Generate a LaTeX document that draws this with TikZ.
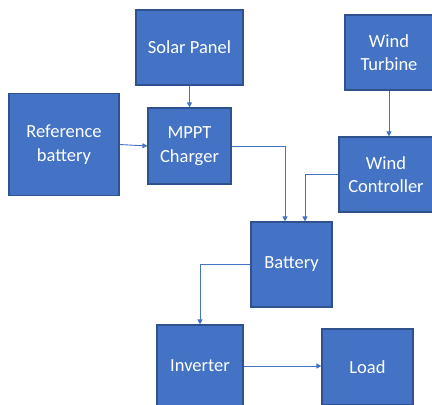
\documentclass[tikz,border=0pt]{standalone}
\usepackage{fontspec}
\setmainfont{Carlito}
\usetikzlibrary{arrows.meta,calc}
\definecolor{boxblue}{HTML}{4472C4}
\definecolor{boxedge}{HTML}{2F528F}

\begin{document}
\begin{tikzpicture}[x=1pt,y=-1pt,>={Triangle[length=5pt,width=5pt]},
  block/.style={draw=boxedge,line width=1.2pt,fill=boxblue,text=white,align=center,
    font=\fontsize{18.5}{23.5}\selectfont,inner sep=0pt},
  wire/.style={->,boxblue,line width=0.9pt}]
  \useasboundingbox (0,0) rectangle (432,405);
  \node[block,minimum width=107pt,minimum height=75pt] (solar) at (189.5,47.5) {Solar Panel};
  \node[block,minimum width=88pt,minimum height=75pt] (turbine) at (389,52.5) {Wind\\Turbine};
  \node[block,minimum width=110pt,minimum height=102pt] (refbat) at (64,144.5) {Reference\\battery};
  \node[block,minimum width=83pt,minimum height=76pt] (mppt) at (189.5,146) {MPPT\\Charger};
  \node[block,minimum width=94pt,minimum height=75pt] (windctl) at (386,174.5) {Wind\\Controller};
  \node[block,minimum width=81pt,minimum height=85pt] (battery) at (291.5,264.5) {Battery};
  \node[block,minimum width=86pt,minimum height=82pt] (inverter) at (200,366) {Inverter};
  \node[block,minimum width=91pt,minimum height=76pt] (load) at (367.5,367) {Load};
  \draw[wire] (solar.south) -- (solar.south |- mppt.north);
  \draw[wire] (turbine.south) -- (turbine.south |- windctl.north);
  \draw[wire] (refbat.east) -- (mppt.west);
  \draw[wire] (mppt.east) -| ([xshift=-6.5pt]battery.north);
  \draw[wire] (windctl.west) -| ([xshift=13.5pt]battery.north);
  \draw[wire] (battery.west) -| (inverter.north);
  \draw[wire] (inverter.east) -- (inverter.east -| load.west);
\end{tikzpicture}
\end{document}
